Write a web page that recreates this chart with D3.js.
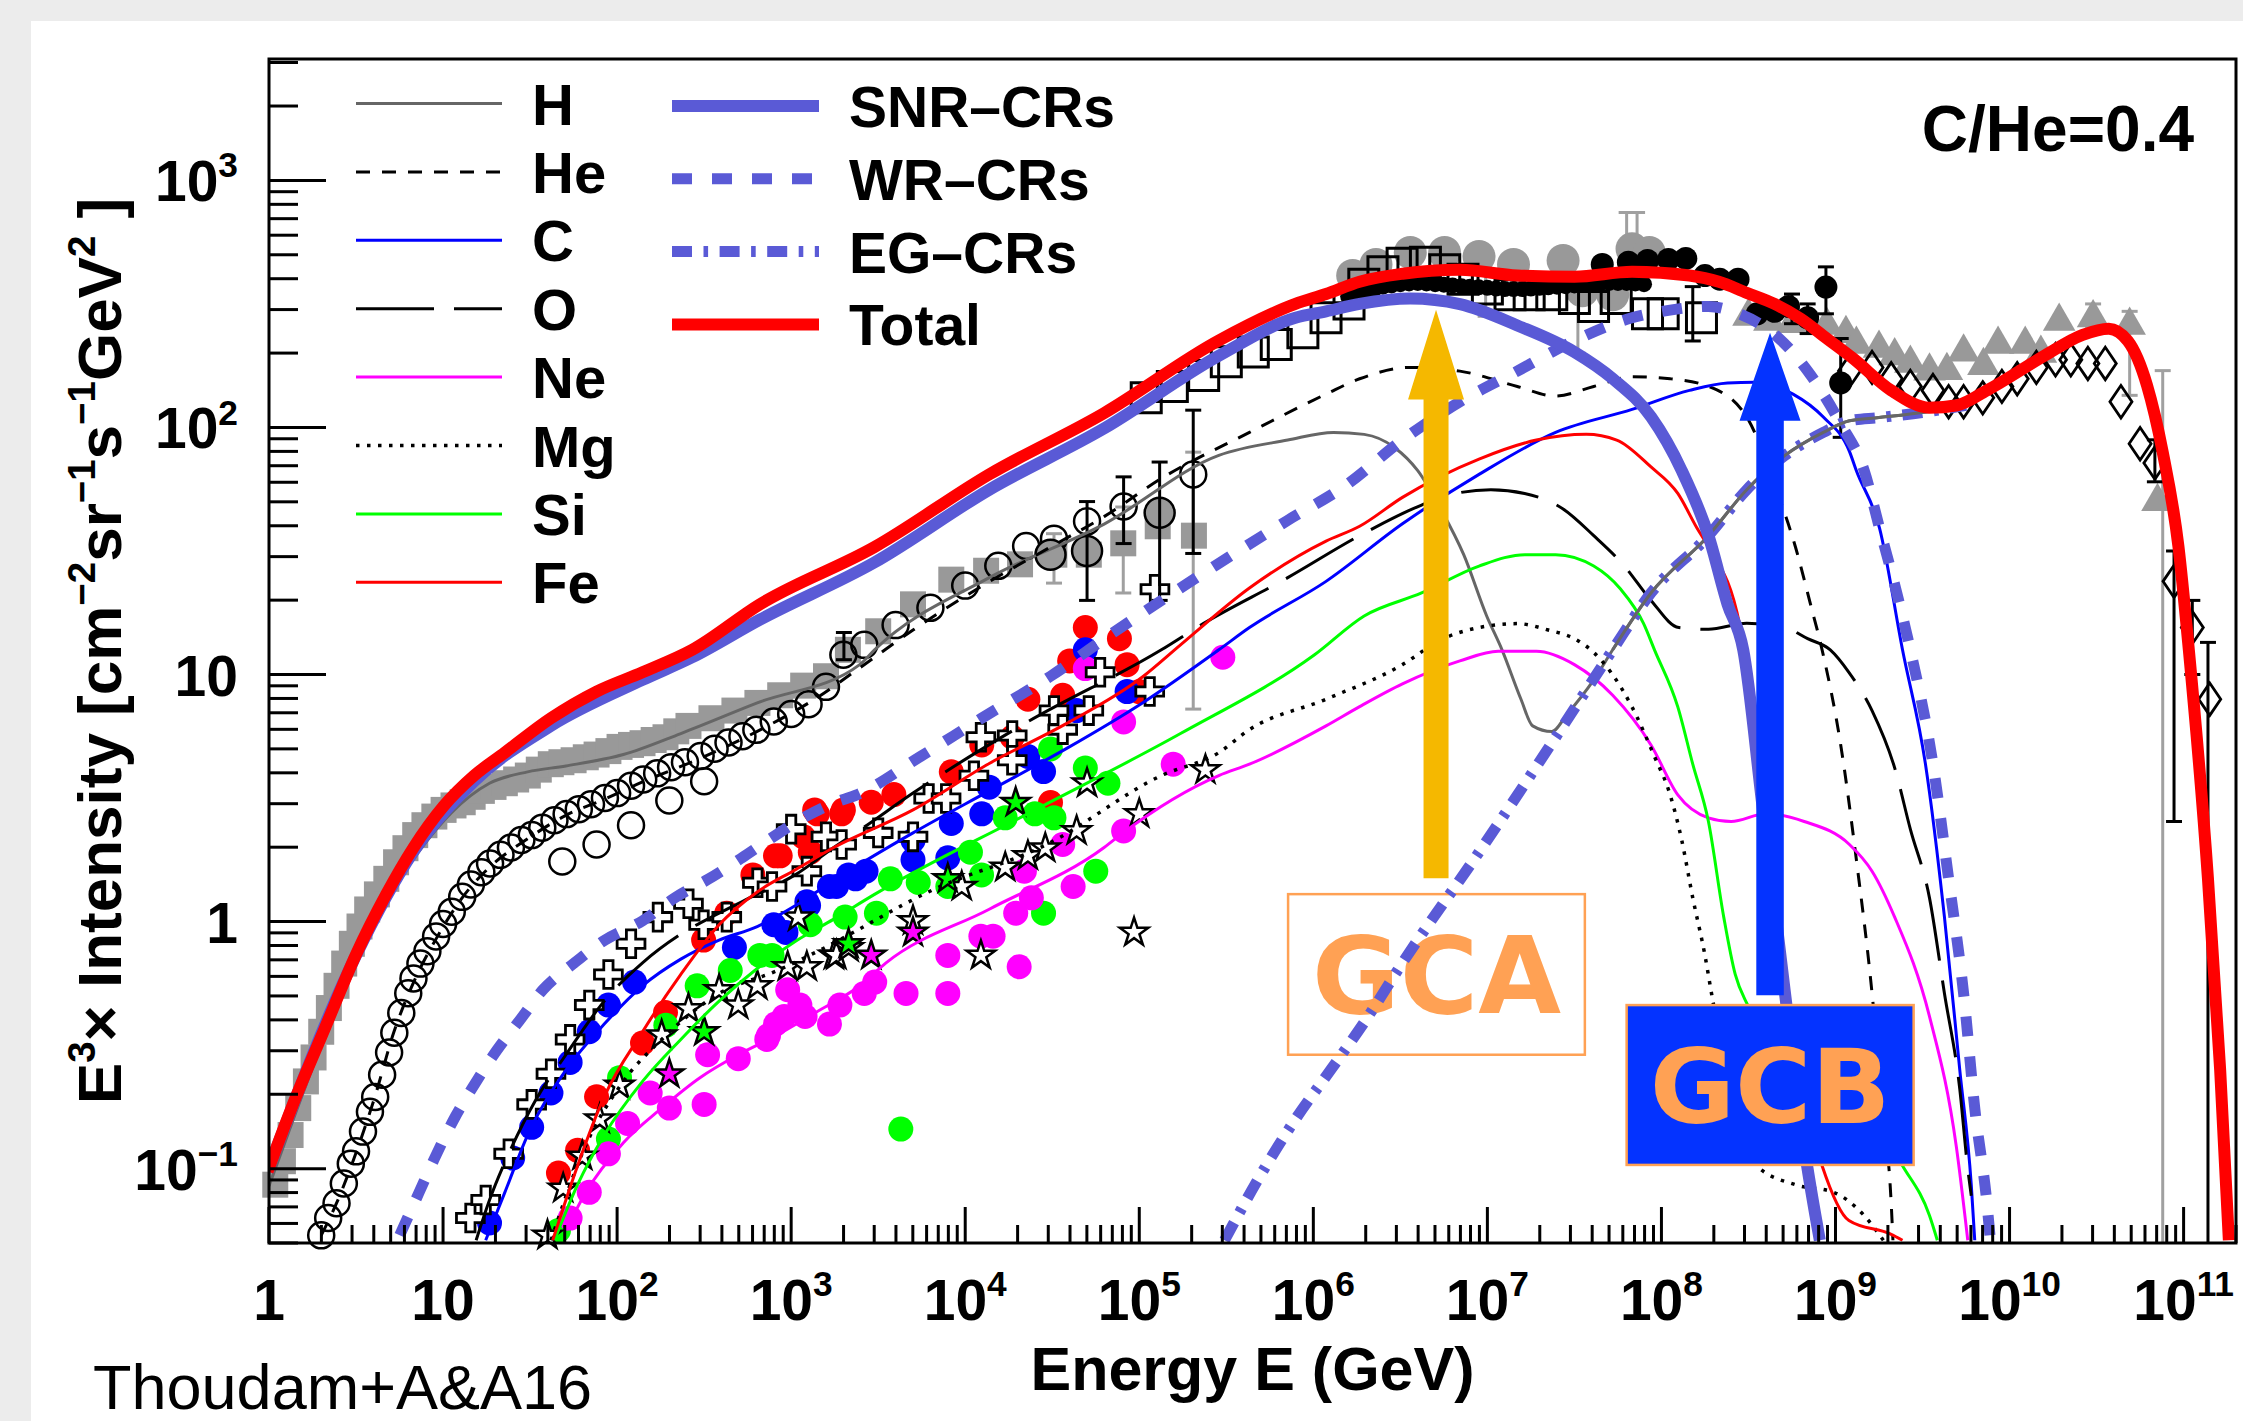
<!DOCTYPE html>
<html>
<head>
<meta charset="utf-8">
<script src="https://cdn.jsdelivr.net/npm/d3@7"></script>
<style>
  html, body { margin: 0; padding: 0; background: #fff; }
  svg { display: block; }
</style>
</head>
<body>
<div id="chart"></div>
<script>
// all values are stored as [log10(E / GeV), log10(E^3 x intensity)]

// ---- model curves ----
const totalModel = [[-0.008,-1.011],[0.146,-0.725],[0.322,-0.43],[0.498,-0.136],[0.674,0.111],[0.828,0.297],[1.003,0.467],[1.179,0.591],[1.355,0.684],[1.619,0.823],[1.882,0.931],[2.146,1.009],[2.432,1.10],[2.82,1.284],[3.479,1.516],[4.138,1.81],[4.798,2.058],[5.457,2.352],[5.897,2.50],[6.073,2.54],[6.266,2.59],[6.512,2.622],[6.842,2.638],[7.172,2.615],[7.501,2.61],[7.831,2.63],[8.161,2.615],[8.33,2.59],[8.49,2.545],[8.65,2.50],[8.80,2.44],[8.95,2.36],[9.10,2.28],[9.32,2.15],[9.54,2.08],[9.70,2.09],[9.87,2.15],[10.20,2.29],[10.42,2.375],[10.57,2.40],[10.68,2.35],[10.79,2.17],[10.88,1.90],[10.97,1.52],[11.03,1.10],[11.14,0.173],[11.21,-0.60],[11.26,-1.29]];
const snrModel = [[-0.008,-1.011],[0.498,-0.14],[0.828,0.281],[1.179,0.568],[1.619,0.792],[2.146,0.978],[2.432,1.07],[2.82,1.222],[3.479,1.454],[4.138,1.748],[4.798,1.996],[5.457,2.29],[5.897,2.444],[6.073,2.47],[6.266,2.50],[6.557,2.522],[6.842,2.499],[7.172,2.413],[7.501,2.305],[7.721,2.197],[7.941,2.042],[8.117,1.825],[8.27,1.562],[8.38,1.284],[8.47,1.10],[8.578,0.482],[8.71,-0.291],[8.82,-0.91],[8.91,-1.29]];
const wrModel = [[0.751,-1.27],[0.86,-1.10],[0.95,-0.96],[1.07,-0.79],[1.18,-0.66],[1.31,-0.52],[1.44,-0.40],[1.575,-0.275],[1.75,-0.17],[1.93,-0.075],[2.146,0.003],[2.34,0.10],[2.52,0.17],[2.717,0.258],[2.89,0.34],[3.07,0.42],[3.245,0.48],[3.377,0.513],[3.743,0.668],[4.094,0.823],[4.49,0.993],[4.864,1.176],[5.435,1.44],[5.853,1.624],[6.183,1.764],[6.512,1.949],[6.842,2.104],[7.172,2.228],[7.501,2.352],[7.831,2.444],[8.05,2.475],[8.27,2.49],[8.446,2.46],[8.666,2.367],[8.857,2.212],[9.033,2.011],[9.165,1.825],[9.253,1.593],[9.341,1.361],[9.43,1.10],[9.56,0.637],[9.65,0.173],[9.736,-0.291],[9.80,-0.755],[9.87,-1.14],[9.89,-1.29]];
const egModel = [[5.49,-1.29],[5.677,-1.05],[5.897,-0.80],[6.10,-0.60],[6.30,-0.40],[6.512,-0.167],[6.952,0.281],[7.392,0.746],[7.72,1.10],[7.94,1.33],[8.27,1.562],[8.49,1.748],[8.71,1.887],[8.93,1.98],[9.08,2.027],[9.25,2.04],[9.54,2.065],[9.75,2.09]];
const hModel = [[0,-1.07],[0.15,-0.78],[0.3,-0.50],[0.45,-0.25],[0.6,-0.02],[0.75,0.17],[0.9,0.32],[1.047,0.44],[1.267,0.56],[1.486,0.606],[1.706,0.63],[2.036,0.676],[2.366,0.761],[2.805,0.885],[3.394,1.04],[3.479,1.10],[4.138,1.392],[4.798,1.609],[5.457,1.887],[5.853,1.949],[6.116,1.98],[6.292,1.972],[6.468,1.918],[6.6,1.825],[6.732,1.67],[6.864,1.485],[6.996,1.237],[7.084,1.10],[7.193,0.90],[7.26,0.792],[7.37,0.769],[7.457,0.838],[7.611,0.978],[7.72,1.10],[7.94,1.33],[8.27,1.562],[8.49,1.748],[8.71,1.887],[8.93,1.98],[9.08,2.027],[9.25,2.04],[9.54,2.065],[9.75,2.09]];
const heModel = [[0.30,-1.27],[0.388,-1.14],[0.498,-0.94],[0.608,-0.71],[0.718,-0.446],[0.828,-0.25],[0.96,-0.07],[1.114,0.10],[1.267,0.22],[1.486,0.335],[1.706,0.43],[1.926,0.495],[2.146,0.565],[2.476,0.66],[2.805,0.77],[3.135,0.90],[3.40,1.03],[3.7,1.18],[4.1,1.36],[4.5,1.52],[4.8,1.64],[5.13,1.795],[5.633,1.98],[6.073,2.135],[6.266,2.197],[6.557,2.243],[6.842,2.228],[7.172,2.166],[7.391,2.127],[7.611,2.166],[7.831,2.205],[8.05,2.197],[8.27,2.166],[8.49,2.042],[8.66,1.748],[8.77,1.516],[8.857,1.283],[8.923,1.10],[9.03,0.715],[9.12,0.25],[9.21,-0.29],[9.27,-0.755],[9.32,-1.14],[9.33,-1.29]];
const cModel = [[1.245,-1.29],[1.355,-1.096],[1.486,-0.864],[1.706,-0.601],[1.926,-0.415],[2.146,-0.26],[2.366,-0.152],[2.586,-0.075],[2.805,-0.02],[3.025,0.065],[3.259,0.173],[3.7,0.359],[4.138,0.529],[4.578,0.699],[5.018,0.885],[5.457,1.10],[5.633,1.19],[6.073,1.377],[6.512,1.61],[6.952,1.81],[7.392,1.98],[7.831,2.073],[8.161,2.15],[8.38,2.18],[8.535,2.183],[8.756,2.135],[8.93,2.042],[9.08,1.903],[9.12,1.825],[9.253,1.593],[9.385,1.10],[9.517,0.637],[9.626,0.018],[9.714,-0.6],[9.78,-1.065],[9.80,-1.29]];
const oModel = [[1.19,-1.29],[1.267,-1.127],[1.377,-0.94],[1.53,-0.725],[1.706,-0.539],[1.926,-0.322],[2.146,-0.167],[2.366,-0.051],[2.586,0.034],[2.805,0.111],[3.025,0.19],[3.245,0.30],[3.394,0.37],[3.7,0.52],[4.358,0.808],[5.127,1.10],[5.37,1.207],[5.853,1.392],[6.266,1.562],[6.622,1.686],[6.8,1.73],[7.02,1.748],[7.214,1.733],[7.435,1.67],[7.611,1.562],[7.787,1.439],[7.94,1.30],[8.1,1.19],[8.27,1.183],[8.49,1.207],[8.71,1.19],[8.84,1.145],[8.97,1.10],[9.077,1.009],[9.21,0.854],[9.34,0.622],[9.43,0.374],[9.54,0.096],[9.626,-0.291],[9.714,-0.678],[9.758,-0.988],[9.78,-1.11]];
const neModel = [[1.706,-1.25],[1.817,-1.10],[2.036,-0.895],[2.256,-0.755],[2.476,-0.632],[2.696,-0.539],[2.915,-0.461],[3.135,-0.37],[3.394,-0.26],[3.545,-0.167],[4.138,0.05],[4.798,0.30],[4.908,0.36],[5.457,0.591],[5.633,0.637],[6.073,0.792],[6.266,0.87],[6.512,0.962],[6.842,1.055],[7.062,1.094],[7.282,1.094],[7.5,1.04],[7.72,0.916],[7.94,0.715],[8.094,0.513],[8.27,0.42],[8.4,0.405],[8.6,0.436],[8.82,0.405],[9.08,0.312],[9.21,0.204],[9.34,0.018],[9.54,-0.384],[9.694,-0.91],[9.76,-1.29]];
const mgModel = [[1.62,-1.29],[1.817,-0.91],[2.036,-0.647],[2.256,-0.477],[2.586,-0.291],[2.915,-0.20],[3.15,-0.121],[3.81,0.127],[4.468,0.312],[5.127,0.591],[5.457,0.684],[5.633,0.777],[6.073,0.90],[6.512,1.04],[6.732,1.14],[6.95,1.19],[7.172,1.206],[7.35,1.18],[7.5,1.145],[7.61,1.09],[7.83,0.87],[7.96,0.668],[8.05,0.513],[8.117,0.328],[8.18,0.096],[8.25,-0.137],[8.29,-0.30],[8.40,-0.70],[8.55,-0.99],[8.77,-1.065],[8.99,-1.096],[9.165,-1.19],[9.275,-1.29]];
const siModel = [[1.64,-1.29],[1.773,-1.065],[1.926,-0.864],[2.146,-0.647],[2.366,-0.477],[2.586,-0.322],[2.805,-0.19],[3.025,-0.08],[3.245,0.01],[3.479,0.11],[4.358,0.436],[5.237,0.761],[6.007,1.08],[6.292,1.237],[6.622,1.33],[6.952,1.439],[7.216,1.485],[7.392,1.485],[7.611,1.439],[7.765,1.346],[7.897,1.207],[7.96,1.10],[8.094,0.869],[8.18,0.637],[8.27,0.405],[8.358,0.018],[8.424,-0.214],[8.49,-0.33],[9.385,-0.988],[9.54,-1.19],[9.585,-1.29]];
const feModel = [[1.63,-1.29],[1.773,-0.988],[1.926,-0.709],[2.146,-0.446],[2.366,-0.214],[2.586,-0.013],[2.805,0.12],[3.025,0.21],[3.245,0.30],[3.7,0.452],[4.138,0.64],[4.578,0.80],[5.018,0.99],[5.237,1.12],[5.633,1.35],[6.073,1.54],[6.266,1.60],[6.512,1.717],[6.952,1.872],[7.282,1.949],[7.568,1.972],[7.743,1.949],[7.94,1.84],[8.094,1.733],[8.204,1.593],[8.27,1.516],[8.45,1.2],[8.6,0.4],[8.75,-0.5],[8.923,-0.988],[9.077,-1.21],[9.32,-1.266],[9.385,-1.29]];

// ---- measurements ----
const hSquares = [[0.036,-1.065],[0.08,-0.97],[0.124,-0.864],[0.168,-0.755],[0.212,-0.647],[0.256,-0.55],[0.30,-0.446],[0.344,-0.35],[0.388,-0.26],[0.432,-0.17],[0.476,-0.09],[0.52,-0.02],[0.564,0.049],[0.62,0.11],[0.674,0.173],[0.73,0.24],[0.784,0.297],[0.84,0.35],[0.893,0.39],[0.95,0.425],[1.003,0.452],[1.06,0.47],[1.113,0.483],[1.17,0.505],[1.223,0.529],[1.29,0.545],[1.355,0.56],[1.42,0.575],[1.487,0.591],[1.55,0.615],[1.619,0.637],[1.68,0.645],[1.75,0.653],[1.82,0.665],[1.882,0.676],[1.95,0.69],[2.014,0.707],[2.08,0.715],[2.146,0.722],[2.21,0.735],[2.278,0.746],[2.34,0.77],[2.41,0.792],[2.542,0.823],[2.674,0.854],[2.806,0.885],[2.937,0.916],[3.069,0.955],[3.2,0.993],[3.326,1.10],[3.5,1.175],[3.70,1.284],[3.92,1.384],[4.12,1.42],[4.315,1.446],[4.512,1.485],[4.71,1.485],[4.908,1.531],[5.106,1.60],[5.314,1.562]];
const heCircles = [[0.30,-1.27],[0.34,-1.20],[0.388,-1.14],[0.43,-1.06],[0.47,-0.98],[0.50,-0.93],[0.54,-0.85],[0.58,-0.77],[0.61,-0.71],[0.65,-0.62],[0.69,-0.53],[0.72,-0.45],[0.76,-0.37],[0.80,-0.29],[0.83,-0.23],[0.87,-0.17],[0.91,-0.12],[0.96,-0.06],[1.00,-0.01],[1.05,0.04],[1.11,0.10],[1.16,0.15],[1.22,0.20],[1.27,0.235],[1.33,0.27],[1.39,0.30],[1.45,0.33],[1.51,0.35],[1.57,0.38],[1.64,0.41],[1.71,0.435],[1.78,0.455],[1.85,0.475],[1.93,0.50],[2.0,0.52],[2.08,0.55],[2.15,0.575],[2.23,0.60],[2.31,0.625],[2.39,0.645],[2.48,0.67],[2.56,0.70],[2.64,0.725],[2.72,0.75],[2.8,0.776],[2.9,0.81],[3.0,0.84],[3.1,0.88],[3.2,0.95],[3.3,1.08],[3.42,1.12],[3.60,1.20],[3.80,1.27],[4.0,1.36],[4.19,1.44],[4.35,1.52],[4.51,1.55],[4.70,1.62],[4.91,1.68],[5.31,1.81],[1.685,0.243],[1.882,0.312],[2.08,0.39],[2.30,0.49],[2.5,0.568]];
const hCirclesHE = [[4.49,1.485],[4.70,1.50],[5.117,1.655]];
const allSquares = [[5.04,2.12],[5.19,2.166],[5.37,2.21],[5.50,2.266],[5.655,2.305],[5.787,2.336],[5.94,2.383],[6.073,2.444],[6.205,2.50],[6.29,2.58],[6.40,2.63],[6.51,2.665],[6.644,2.669],[6.755,2.638],[6.86,2.60],[7.0,2.56],[7.13,2.537],[7.24,2.537],[7.37,2.537],[7.50,2.522],[7.61,2.49],[7.74,2.522],[7.92,2.46],[8.01,2.46],[8.23,2.444]];
const greyCircles = [[6.226,2.615],[6.36,2.66],[6.557,2.708],[6.754,2.708],[6.952,2.692],[7.15,2.66],[7.435,2.676],[7.545,2.553],[7.72,2.537],[7.831,2.723],[7.93,2.708]];
const blackBand = [[6.20,2.53],[6.25,2.54],[6.30,2.55],[6.35,2.56],[6.40,2.57],[6.45,2.575],[6.50,2.58],[6.55,2.583],[6.60,2.585],[6.65,2.583],[6.70,2.58],[6.75,2.578],[6.80,2.575],[6.85,2.572],[6.90,2.57],[6.95,2.567],[7.00,2.565],[7.05,2.562],[7.10,2.56],[7.15,2.56],[7.20,2.56],[7.25,2.562],[7.30,2.565],[7.35,2.567],[7.40,2.57],[7.45,2.572],[7.50,2.575],[7.55,2.578],[7.60,2.58],[7.65,2.583],[7.70,2.585],[7.75,2.585],[7.80,2.585],[7.85,2.583],[7.90,2.58]];
const blackCircles = [[7.66,2.66],[7.81,2.669],[7.92,2.676],[8.04,2.68],[8.14,2.684],[8.25,2.615],[8.335,2.60],[8.44,2.60],[8.55,2.46],[8.65,2.47],[8.73,2.49],[8.84,2.444],[8.945,2.568],[9.03,2.18]];
const triangles = [[8.5,2.45],[8.62,2.43],[8.75,2.42],[8.95,2.413],[9.06,2.38],[9.12,2.336],[9.25,2.32],[9.34,2.29],[9.43,2.26],[9.54,2.228],[9.64,2.23],[9.736,2.305],[9.85,2.25],[9.934,2.336],[10.09,2.336],[10.18,2.30],[10.285,2.43],[10.48,2.444],[10.69,2.413],[10.85,1.70]];
const diamonds = [[9.08,2.228],[9.21,2.243],[9.32,2.197],[9.43,2.166],[9.56,2.15],[9.65,2.104],[9.736,2.104],[9.846,2.12],[9.956,2.166],[10.044,2.197],[10.154,2.243],[10.264,2.274],[10.352,2.274],[10.45,2.259],[10.55,2.259],[10.64,2.104],[10.75,1.934],[10.835,1.856],[10.945,1.377],[11.05,1.19],[11.15,0.90]];
const crosses = [[1.157,-1.20],[1.245,-1.127],[1.377,-0.94],[1.509,-0.74],[1.62,-0.616],[1.73,-0.477],[1.84,-0.338],[1.95,-0.214],[2.08,-0.09],[2.234,0.018],[2.41,0.072],[2.497,-0.013],[2.63,0.018],[2.806,0.157],[2.89,0.142],[3.0,0.374],[3.09,0.204],[3.2,0.343],[3.29,0.312],[3.5,0.359],[3.70,0.343],[3.79,0.498],[3.89,0.498],[4.05,0.59],[4.09,0.746],[4.27,0.753],[4.27,0.653],[4.51,0.854],[4.56,0.777],[4.71,0.854],[4.775,1.009],[5.06,0.931],[5.09,1.345]];
const feDots = [[1.663,-1.018],[1.773,-0.926],[1.882,-0.709],[2.146,-0.492],[2.278,-0.368],[2.497,-0.075],[2.63,0.034],[2.78,0.189],[2.91,0.266],[2.937,0.266],[3.07,0.343],[3.11,0.281],[3.135,0.452],[3.15,0.436],[3.29,0.436],[3.3,0.452],[3.46,0.483],[3.59,0.514],[3.92,0.606],[4.095,0.715],[4.27,0.746],[4.36,0.90],[4.49,0.482],[4.56,0.916],[4.6,1.055],[4.69,1.19],[4.886,1.145],[4.93,1.04],[5.0,0.931]];
const cDots = [[1.267,-1.22],[1.40,-0.957],[1.509,-0.833],[1.62,-0.694],[1.73,-0.57],[1.84,-0.446],[1.95,-0.338],[2.1,-0.245],[2.674,-0.105],[2.9,-0.013],[2.97,-0.044],[3.09,0.08],[3.10,0.065],[3.22,0.142],[3.26,0.142],[3.33,0.189],[3.37,0.173],[3.43,0.204],[3.70,0.25],[3.70,0.328],[3.9,0.258],[3.92,0.397],[4.095,0.436],[4.138,0.544],[4.36,0.668],[4.45,0.607],[4.64,0.854],[4.69,1.10],[4.93,0.931]];
const siDots = [[1.663,-1.25],[1.95,-0.88],[2.014,-0.632],[2.28,-0.42],[2.46,-0.26],[2.65,-0.198],[2.82,-0.137],[2.89,-0.137],[3.11,-0.013],[3.31,0.018],[3.49,0.034],[3.57,0.173],[3.63,-0.84],[3.73,0.158],[3.9,0.142],[4.03,0.281],[4.094,0.189],[4.23,0.42],[4.40,0.436],[4.45,0.034],[4.49,0.699],[4.51,0.42],[4.69,0.622],[4.75,0.204],[4.82,0.56]];
const neDots = [[1.73,-1.20],[1.84,-1.096],[1.95,-0.94],[2.06,-0.817],[2.19,-0.694],[2.30,-0.755],[2.5,-0.74],[2.52,-0.539],[2.696,-0.555],[2.86,-0.477],[2.87,-0.461],[2.91,-0.415],[2.96,-0.384],[2.98,-0.276],[3.05,-0.338],[3.08,-0.384],[3.22,-0.415],[3.28,-0.338],[3.42,-0.291],[3.48,-0.245],[3.66,-0.291],[3.9,-0.291],[3.9,-0.137],[4.09,-0.059],[4.16,-0.059],[4.29,0.034],[4.31,-0.183],[4.34,0.204],[4.38,0.096],[4.56,0.312],[4.62,0.142],[4.69,1.024],[4.91,0.367],[4.91,0.808],[5.195,0.637],[5.48,1.07]];
const mgStars = [[1.6,-1.27],[1.69,-1.08],[1.80,-0.95],[1.90,-0.80],[2.014,-0.663],[2.256,-0.46],[2.41,-0.353],[2.586,-0.276],[2.696,-0.338],[2.806,-0.26],[2.98,-0.183],[3.04,0.018],[3.09,-0.183],[3.245,-0.137],[3.26,-0.137],[3.33,-0.106],[3.7,0.003],[3.98,0.142],[4.09,-0.137],[4.23,0.219],[4.36,0.266],[4.46,0.297],[4.64,0.367],[4.7,0.56],[4.97,-0.044],[5.0,0.436],[5.38,0.614]];
const starsGreen = [[2.5,-0.446],[3.33,-0.09],[3.9,0.173],[4.29,0.482]];
const starsMagenta = [[2.30,-0.617],[3.46,-0.137],[3.7,-0.044]];

// error bars: [log10 E, upper, lower]
const errBlack = [[3.303,1.17,1.06],[4.70,1.70,1.30],[4.91,1.80,1.53],[5.117,1.86,1.30],[5.31,2.07,1.49],[8.18,2.57,2.35],[8.75,2.54,2.42],[8.84,2.50,2.38],[8.945,2.65,2.46],[9.03,2.36,1.96],[10.835,1.95,1.78],[10.945,1.50,0.405],[11.05,1.30,1.0],[11.14,1.13,-1.35]];
const errGrey = [[4.51,1.57,1.37],[4.908,1.678,1.33],[5.31,1.90,0.86],[6.99,2.68,2.45],[7.52,2.56,2.30],[7.80,2.87,2.70],[7.86,2.87,2.70],[10.48,2.50,2.40],[10.69,2.47,2.13],[10.88,2.23,-1.35]];

// annotations (log10 E, log10 y)
const gcaArrow = {e: 6.705, tip: 2.476, head: 2.113, foot: 0.175};
const gcbArrow = {e: 8.624, tip: 2.383, head: 2.027, foot: -0.298};
const gcaBox = {e0: 5.855, e1: 7.56, top: 0.111, bottom: -0.539};
const gcbBox = {e0: 7.80, e1: 9.449, top: -0.338, bottom: -0.985};

const xTickExp = d3.range(0, 12);
const yTickExp = [-1, 0, 1, 2, 3];

// ---- layout ----
const W = 2243, H = 1421;
const frame = {left: 269, right: 2236, top: 59, bottom: 1243};
const FONT = "'Liberation Sans', Arial, Helvetica, sans-serif";

const x = d3.scaleLog().domain([1, 2e11]).range([frame.left, frame.right]);
const y = d3.scaleLog().domain([0.05, 3100]).range([frame.bottom, frame.top]);
const px = d => x(Math.pow(10, d[0]));
const py = d => y(Math.pow(10, d[1]));

const svg = d3.select("#chart").append("svg")
    .attr("width", W).attr("height", H)
    .attr("font-family", FONT);

// slide background with a soft edge at left and top
svg.append("rect").attr("width", W).attr("height", H).attr("fill", "#ececec");
svg.append("rect").attr("x", 31).attr("y", 21).attr("width", W - 31).attr("height", H - 21).attr("fill", "#fff");

svg.append("defs").append("clipPath").attr("id", "plotclip")
  .append("rect")
    .attr("x", frame.left).attr("y", frame.top)
    .attr("width", frame.right - frame.left).attr("height", frame.bottom - frame.top);

// ROOT-like open diamond, a bit wider than d3's
const wideDiamond = {
  draw(ctx, size) {
    const h = Math.sqrt(size) * 0.95, w = h * 0.68;
    ctx.moveTo(0, -h); ctx.lineTo(w, 0); ctx.lineTo(0, h); ctx.lineTo(-w, 0); ctx.closePath();
  }
};

// ---- markers ----
const marks = svg.append("g");

function dots(data, r, fill, stroke, sw) {
  marks.append("g").selectAll("circle").data(data).join("circle")
    .attr("cx", px).attr("cy", py).attr("r", r)
    .attr("fill", fill).attr("stroke", stroke || "none").attr("stroke-width", sw || 0);
}
function symbols(data, type, size, fill, stroke, sw) {
  const path = d3.symbol(type, size)();
  marks.append("g").selectAll("path").data(data).join("path")
    .attr("transform", d => `translate(${px(d)},${py(d)})`)
    .attr("d", path)
    .attr("fill", fill).attr("stroke", stroke || "none").attr("stroke-width", sw || 0)
    .attr("stroke-linejoin", "miter");
}
function errorBars(data, color) {
  const g = marks.append("g").attr("stroke", color).attr("stroke-width", 3);
  const clampY = v => Math.min(frame.bottom, y(Math.pow(10, v)));
  g.selectAll("line.v").data(data).join("line")
    .attr("x1", px).attr("x2", px)
    .attr("y1", d => clampY(d[1])).attr("y2", d => clampY(d[2]));
  [1, 2].forEach(k => {
    g.append("g").selectAll("line").data(data.filter(d => y(Math.pow(10, d[k])) < frame.bottom)).join("line")
      .attr("x1", d => px(d) - 8).attr("x2", d => px(d) + 8)
      .attr("y1", d => clampY(d[k])).attr("y2", d => clampY(d[k]));
  });
}

errorBars(errGrey, "#a0a0a0");
symbols(hSquares, d3.symbolSquare, 26 * 26, "#999");
dots(greyCircles, 16.5, "#999");
symbols(allSquares, d3.symbolSquare, 30 * 30, "none", "#000", 3);
dots(heCircles, 13, "none", "#000", 2.5);
dots(hCirclesHE, 15, "#999", "#000", 2.5);
dots(blackBand, 8, "#000");
dots(feDots, 12.5, "#ff0000");
dots(cDots, 12.5, "#0000ff");
dots(siDots, 12.5, "#00ff00");
dots(neDots, 12.5, "#ff00ff");
symbols(crosses, d3.symbolCross, 430, "#fff", "#000", 2.8);
symbols(mgStars, d3.symbolStar, 250, "#fff", "#000", 2.5);
symbols(starsGreen, d3.symbolStar, 250, "#00ff00", "#000", 2.5);
symbols(starsMagenta, d3.symbolStar, 250, "#ff00ff", "#000", 2.5);
symbols(triangles, d3.symbolTriangle, 460, "#999");
symbols(diamonds, wideDiamond, 290, "none", "#000", 2.8);
dots(blackCircles, 11.5, "#000");
errorBars(errBlack, "#000");

// ---- GCA label box (behind the curves) ----
const ORANGE = "#ffa154";
const ann = svg.append("g");
ann.append("rect")
    .attr("x", x(10 ** gcaBox.e0)).attr("y", y(10 ** gcaBox.top))
    .attr("width", x(10 ** gcaBox.e1) - x(10 ** gcaBox.e0))
    .attr("height", y(10 ** gcaBox.bottom) - y(10 ** gcaBox.top))
    .attr("fill", "none").attr("stroke", ORANGE).attr("stroke-width", 2.5);
ann.append("text")
    .attr("x", (x(10 ** gcaBox.e0) + x(10 ** gcaBox.e1)) / 2)
    .attr("y", y(10 ** gcaBox.bottom) - 42)
    .attr("text-anchor", "middle")
    .attr("font-family", "'DejaVu Sans', sans-serif").attr("font-weight", "bold")
    .attr("font-size", 107).attr("fill", ORANGE).text("GCA");

// ---- model curves ----
const curves = svg.append("g").attr("clip-path", "url(#plotclip)").attr("fill", "none");
const line = d3.line().x(px).y(py).curve(d3.curveMonotoneX);

function curve(data, color, width, dash) {
  curves.append("path").attr("d", line(data))
    .attr("stroke", color).attr("stroke-width", width)
    .attr("stroke-dasharray", dash || null);
}

const SNRBLUE = "#5a5ad6";
const styles = {
  H:  ["#666666", 3, null],
  He: ["#000000", 3, "14,12"],
  C:  ["#0000ff", 3, null],
  O:  ["#000000", 3, "78,20"],
  Ne: ["#ff00ff", 3, null],
  Mg: ["#000000", 3.5, "3.5,7.5"],
  Si: ["#00ff00", 3, null],
  Fe: ["#ff0000", 3, null]
};
curve(hModel, ...styles.H);
curve(heModel, ...styles.He);
curve(cModel, ...styles.C);
curve(oModel, ...styles.O);
curve(neModel, ...styles.Ne);
curve(mgModel, ...styles.Mg);
curve(siModel, ...styles.Si);
curve(feModel, ...styles.Fe);
curve(wrModel, SNRBLUE, 11, "20,20");
curve(egModel, SNRBLUE, 11, "20,11.5,4.6,11.5");
curve(egModel.filter(d => d[0] > 7.4), "#666666", 3);
curve(snrModel, SNRBLUE, 12);
curve(totalModel, "#ff0000", 12);

// ---- arrows and GCB box ----
function arrow(a, color, shaftHalf, headHalf) {
  const cx = x(10 ** a.e), yt = y(10 ** a.tip), yh = y(10 ** a.head), yf = y(10 ** a.foot);
  svg.append("path")
    .attr("d", `M${cx},${yt} L${cx + headHalf},${yh} L${cx + shaftHalf},${yh} L${cx + shaftHalf},${yf}
                L${cx - shaftHalf},${yf} L${cx - shaftHalf},${yh} L${cx - headHalf},${yh} Z`)
    .attr("fill", color);
}
arrow(gcaArrow, "#f5b800", 12.5, 28);
arrow(gcbArrow, "#0433ff", 13.75, 30.5);

svg.append("rect")
    .attr("x", x(10 ** gcbBox.e0)).attr("y", y(10 ** gcbBox.top))
    .attr("width", x(10 ** gcbBox.e1) - x(10 ** gcbBox.e0))
    .attr("height", y(10 ** gcbBox.bottom) - y(10 ** gcbBox.top))
    .attr("fill", "#0433ff").attr("stroke", ORANGE).attr("stroke-width", 2.5);
svg.append("text")
    .attr("x", (x(10 ** gcbBox.e0) + x(10 ** gcbBox.e1)) / 2)
    .attr("y", y(10 ** gcbBox.bottom) - 42)
    .attr("text-anchor", "middle")
    .attr("font-family", "'DejaVu Sans', sans-serif").attr("font-weight", "bold")
    .attr("font-size", 104).attr("fill", ORANGE).text("GCB");

// ---- frame and axes ----
svg.append("rect")
    .attr("x", frame.left).attr("y", frame.top)
    .attr("width", frame.right - frame.left).attr("height", frame.bottom - frame.top)
    .attr("fill", "none").attr("stroke", "#000").attr("stroke-width", 3);

const ticks = svg.append("g").attr("stroke", "#000").attr("stroke-width", 3);
xTickExp.forEach(k => {
  d3.range(1, 10).forEach(m => {
    const v = m * 10 ** k;
    if (v > 2e11) return;
    const len = m === 1 ? 36 : 18;
    ticks.append("line").attr("x1", x(v)).attr("x2", x(v))
      .attr("y1", frame.bottom).attr("y2", frame.bottom - len);
  });
});
[-2, ...yTickExp].forEach(k => {
  d3.range(1, 10).forEach(m => {
    const v = m * 10 ** k;
    if (v < 0.05 || v > 3100) return;
    const len = m === 1 ? 57 : 29;
    ticks.append("line").attr("y1", y(v)).attr("y2", y(v))
      .attr("x1", frame.left).attr("x2", frame.left + len);
  });
});

function rich(sel, parts, fs) {
  let up = false;
  parts.forEach(([s, isSup]) => {
    const t = sel.append("tspan").text(s);
    if (isSup) {
      t.attr("font-size", fs * 0.62);
      if (!up) { t.attr("dy", -fs * 0.42); up = true; }
    } else if (up) { t.attr("dy", fs * 0.42); up = false; }
  });
}
function powLabel(k) {
  if (k === 0) return [["1", false]];
  if (k === 1) return [["10", false]];
  return [["10", false], [k < 0 ? "\u2212" + (-k) : String(k), true]];
}

const TICKFS = 57;
xTickExp.forEach(k => {
  const t = svg.append("text").attr("x", x(10 ** k)).attr("y", 1320)
    .attr("text-anchor", "middle").attr("font-weight", "bold").attr("font-size", TICKFS);
  rich(t, powLabel(k), TICKFS);
});
yTickExp.forEach(k => {
  const t = svg.append("text").attr("x", 238).attr("y", y(10 ** k) + 21)
    .attr("text-anchor", "end").attr("font-weight", "bold").attr("font-size", TICKFS);
  rich(t, powLabel(k), TICKFS);
});

svg.append("text").attr("x", (frame.left + frame.right) / 2).attr("y", 1390)
  .attr("text-anchor", "middle").attr("font-weight", "bold").attr("font-size", 61)
  .text("Energy E (GeV)");

const ylab = svg.append("text")
  .attr("transform", `translate(121,${(frame.top + frame.bottom) / 2}) rotate(-90)`)
  .attr("text-anchor", "middle").attr("font-weight", "bold").attr("font-size", 62);
rich(ylab, [["E", false], ["3", true], ["\u00d7 Intensity [cm", false], ["\u22122", true], ["sr", false],
            ["\u22121", true], ["s", false], ["\u22121", true], ["GeV", false], ["2", true], [" ]", false]], 62);

svg.append("text").attr("x", 2194).attr("y", 151).attr("text-anchor", "end")
  .attr("font-weight", "bold").attr("font-size", 64).text("C/He=0.4");

svg.append("text").attr("x", 93).attr("y", 1409).attr("font-size", 63).text("Thoudam+A&A16");

// ---- legend ----
const legLeft = [["H", "H"], ["He", "He"], ["C", "C"], ["O", "O"], ["Ne", "Ne"], ["Mg", "Mg"], ["Si", "Si"], ["Fe", "Fe"]];
const legRight = [
  ["SNR\u2013CRs", SNRBLUE, 12, null],
  ["WR\u2013CRs", SNRBLUE, 11, "20,20"],
  ["EG\u2013CRs", SNRBLUE, 11, "20,11.5,4.6,11.5"],
  ["Total", "#ff0000", 12, null]
];
const leg = svg.append("g");
legLeft.forEach(([lab, key], i) => {
  const ly = 103.5 + i * 68.4;
  const [c, w, dsh] = styles[key];
  leg.append("line").attr("x1", 356).attr("x2", 502).attr("y1", ly).attr("y2", ly)
    .attr("stroke", c).attr("stroke-width", w).attr("stroke-dasharray", dsh);
  leg.append("text").attr("x", 532).attr("y", ly + 21).attr("font-weight", "bold")
    .attr("font-size", 58).text(lab);
});
legRight.forEach(([lab, c, w, dsh], i) => {
  const ly = 106 + i * 72.8;
  leg.append("line").attr("x1", 672).attr("x2", 819).attr("y1", ly).attr("y2", ly)
    .attr("stroke", c).attr("stroke-width", w).attr("stroke-dasharray", dsh);
  leg.append("text").attr("x", 849).attr("y", ly + 21).attr("font-weight", "bold")
    .attr("font-size", 57).text(lab);
});
</script>
</body>
</html>
